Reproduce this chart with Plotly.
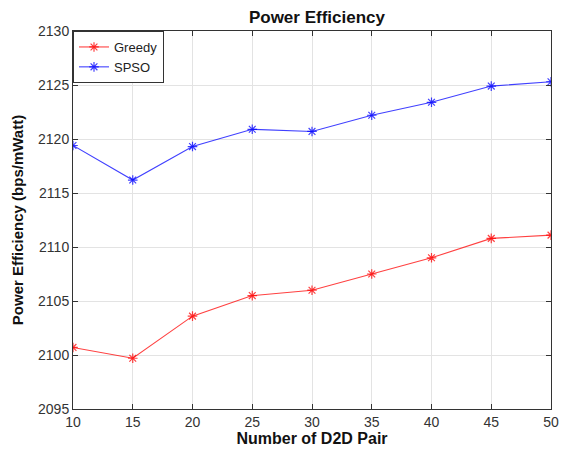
import plotly.graph_objects as go

pairs = [10, 15, 20, 25, 30, 35, 40, 45, 50]
greedy = [2100.7, 2099.7, 2103.6, 2105.5, 2106.0, 2107.5, 2109.0, 2110.8, 2111.1]
spso = [2119.4, 2116.2, 2119.3, 2120.9, 2120.7, 2122.2, 2123.4, 2124.9, 2125.3]
x_ticks = [10, 15, 20, 25, 30, 35, 40, 45, 50]
y_ticks = [2095, 2100, 2105, 2110, 2115, 2120, 2125, 2130]

fig = go.Figure()
fig.add_trace(go.Scatter(x=pairs, y=greedy, name="Greedy", mode="lines+markers",
                         line=dict(color="rgba(255,0,0,0.75)", width=1.1),
                         marker=dict(symbol="asterisk-open", size=8,
                                     line=dict(color="#ff0000", width=1.2))))
fig.add_trace(go.Scatter(x=pairs, y=spso, name="SPSO", mode="lines+markers",
                         line=dict(color="rgba(0,0,255,0.75)", width=1.1),
                         marker=dict(symbol="asterisk-open", size=8,
                                     line=dict(color="#0000ff", width=1.2))))

axis_common = dict(showline=True, linecolor="#333333", linewidth=1, mirror="ticks",
                   ticks="inside", ticklen=5, tickcolor="#333333", automargin=False,
                   showgrid=True, gridcolor="#e3e3e3", gridwidth=1, zeroline=False,
                   tickfont=dict(family="Liberation Sans, Arial", size=14, color="#333333"))

fig.update_xaxes(range=[10, 50], tickvals=x_ticks,
                 title=dict(text="<b>Number of D2D Pair</b>",
                            font=dict(family="Liberation Sans, Arial", size=16, color="#111111"),
                            standoff=0),
                 **axis_common)
fig.update_yaxes(range=[2095, 2130], tickvals=y_ticks,
                 title=dict(text="<b>Power Efficiency (bps/mWatt)</b>",
                            font=dict(family="Liberation Sans, Arial", size=15, color="#111111"),
                            standoff=10),
                 **axis_common)

fig.update_layout(
    width=564, height=450,
    margin=dict(l=73, r=13, t=31, b=41),
    paper_bgcolor="white", plot_bgcolor="white",
    title=dict(text="<b>Power Efficiency</b>", x=0.562, xanchor="center", y=0.962, yanchor="middle",
               font=dict(family="Liberation Sans, Arial", size=17, color="#111111")),
    showlegend=True,
    legend=dict(x=0.0, y=1.0, xanchor="left", yanchor="top",
                bordercolor="#333333", borderwidth=1, bgcolor="white",
                font=dict(family="Liberation Sans, Arial", size=13, color="#222222"),
                tracegroupgap=0, itemwidth=30),
)

fig.write_html("out.html", config={"displayModeBar": False},
               post_script="document.body.style.margin='0';document.body.style.overflow='hidden';")
